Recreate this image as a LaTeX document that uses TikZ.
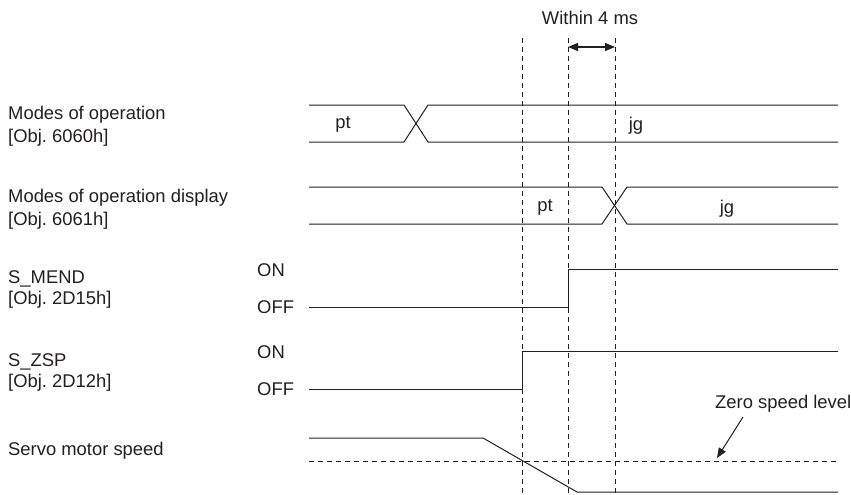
\documentclass[tikz,border=0pt]{standalone}
\usepackage{fontspec}
\setmainfont{Liberation Sans}
\usetikzlibrary{arrows.meta}
\definecolor{ink}{HTML}{231F20}
\frenchspacing
\tikzset{
  sig/.style={draw=ink, line width=1pt},
  guide/.style={draw=ink, line width=1pt, dash pattern=on 5pt off 4pt},
  lbl/.style={anchor=base west, inner sep=0pt, text=ink, font=\fontsize{18.4}{22}\selectfont},
  val/.style={anchor=center, inner sep=0pt, text=ink, font=\fontsize{18.4}{22}\selectfont},
  tip/.style={-{Triangle[length=10pt,width=8pt]}},
}
\begin{document}
\begin{tikzpicture}[x=1pt,y=-1pt]
\useasboundingbox (0,0) rectangle (851,495);
% guides
\draw[guide] (522,38) -- (522,495);
\draw[guide] (568,38) -- (568,495);
\draw[guide] (615,38) -- (615,495);
\node[val, anchor=base] (within) at (590,25) {Within 4 ms};
\coordinate (wa) at (568,47);
\coordinate (wb) at (615,47);
\draw[ink, line width=1.2pt, {Triangle[length=10pt,width=8pt]}-{Triangle[length=10pt,width=8pt]}] (wa) -- (wb);
% left labels
\node[lbl] (l1a) at (8,119) {Modes of operation};
\node[lbl] (l1b) at (8,142) {[Obj. 6060h]};
\node[lbl] (l2a) at (8,202) {Modes of operation display};
\node[lbl] (l2b) at (8,225) {[Obj. 6061h]};
\node[lbl] (l3a) at (8,283) {S\_MEND};
\node[lbl] (l3b) at (8,304) {[Obj. 2D15h]};
\node[lbl] (l4a) at (8,366) {S\_ZSP};
\node[lbl] (l4b) at (8,387) {[Obj. 2D12h]};
\node[lbl] (l5) at (8,455) {Servo motor speed};
\node[lbl] (on1) at (257,276) {ON};
\node[lbl] (off1) at (257,313) {OFF};
\node[lbl] (on2) at (257,358) {ON};
\node[lbl] (off2) at (257,395) {OFF};
% Modes of operation
\draw[sig] (309,105) -- (404,105) -- (428,142) -- (838,142);
\draw[sig] (309,142) -- (404,142) -- (428,105) -- (838,105);
\node[val] (pt1) at (343,124) {pt};
\node[val] (jg1) at (636,126) {jg};
% Modes of operation display
\draw[sig] (309,187) -- (602,187) -- (627,224) -- (838,224);
\draw[sig] (309,224) -- (602,224) -- (627,187) -- (838,187);
\node[val] (pt2) at (545,207) {pt};
\node[val] (jg2) at (727,209) {jg};
% S_MEND
\draw[sig] (309,307) -- (568,307) -- (568,269) -- (838,269);
% S_ZSP
\draw[sig] (309,389) -- (522,389) -- (522,351) -- (838,351);
% Servo motor speed
\draw[sig] (309,438) -- (483,438) -- (577,492) -- (838,492);
\draw[guide] (309,461) -- (838,461);
\node[val, anchor=base west] (zsl) at (715,408) {Zero speed level};
\coordinate (zt) at (717,458);
\draw[ink, line width=1pt, tip] (743,417) -- (zt);
\end{tikzpicture}
\end{document}
